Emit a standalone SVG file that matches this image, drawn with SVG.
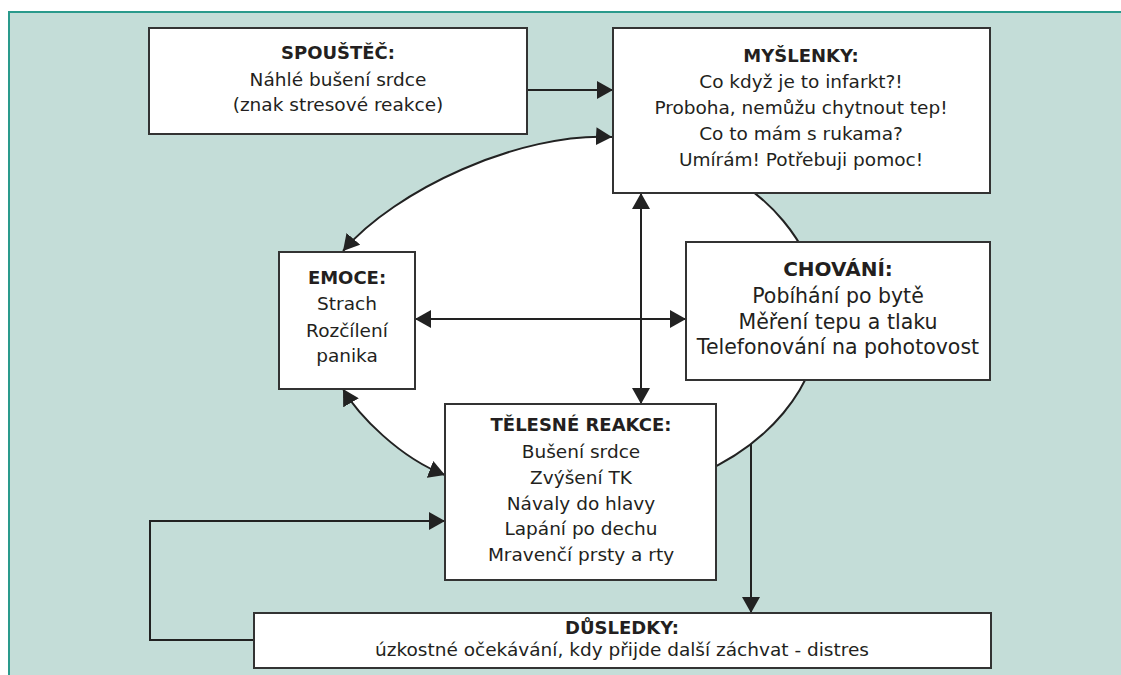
<svg xmlns="http://www.w3.org/2000/svg" width="1121" height="675" viewBox="0 0 1121 675">
<style>
.box{fill:#fff;stroke:#333;stroke-width:2}
.ln{fill:none;stroke:#222;stroke-width:2}
text{font-family:"DejaVu Sans","Open Sans",sans-serif;fill:#231f20;text-anchor:middle}
.h{font-weight:bold;font-size:18px}
.b{font-size:18.5px}
.hl{font-weight:bold;font-size:20px}
.bl{font-size:20.5px}
</style>
<defs>
<marker id="ah" viewBox="0 0 16 18" refX="16" refY="9" markerWidth="16" markerHeight="18" markerUnits="userSpaceOnUse" orient="auto-start-reverse">
<path d="M0,0 L16,9 L0,18 z" fill="#222"/>
</marker>
</defs>
<rect x="0" y="0" width="1121" height="675" fill="#fff"/>
<rect x="9" y="12" width="1112" height="663" fill="#c4ddd8"/>
<path d="M9,675 L9,12 L1121,12" fill="none" stroke="#2a9a8c" stroke-width="2"/>
<path id="loop-fill" d="M612,137 C520,132 395,190 343,251 L343,389 C358,415 400,458 445,475 L700,474 A247 183 0 0 0 700,160 Z" fill="#fff"/>
<g id="connectors">
<path class="ln" d="M612,137 C520,132 395,190 343,251" marker-start="url(#ah)" marker-end="url(#ah)"/>
<path class="ln" d="M343,389 C358,415 400,458 445,475" marker-start="url(#ah)" marker-end="url(#ah)"/>
<path class="ln" d="M700,474 A247 183 0 0 0 700,160"/>
<path class="ln" d="M527,90 L613,90" marker-end="url(#ah)"/>
<path class="ln" d="M641,193 L641,404" marker-start="url(#ah)" marker-end="url(#ah)"/>
<path class="ln" d="M415,319 L686,319" marker-start="url(#ah)" marker-end="url(#ah)"/>
<path class="ln" d="M751,444 L751,613" marker-end="url(#ah)"/>
<path class="ln" d="M254,640 L150,640 L150,521 L445,521" marker-end="url(#ah)"/>
</g>
<g id="spoustec">
<rect class="box" x="149" y="28" width="378" height="106"/>
<text class="h" x="338" y="59">SPOUŠTĚČ:</text>
<text class="b" x="338" y="86">Náhlé bušení srdce</text>
<text class="b" x="338" y="111">(znak stresové reakce)</text>
</g>
<g id="myslenky">
<rect class="box" x="613" y="28" width="377" height="165"/>
<text class="h" x="801" y="62">MYŠLENKY:</text>
<text class="b" x="801" y="88">Co když je to infarkt?!</text>
<text class="b" x="801" y="114">Proboha, nemůžu chytnout tep!</text>
<text class="b" x="801" y="140">Co to mám s rukama?</text>
<text class="b" x="801" y="166">Umírám! Potřebuji pomoc!</text>
</g>
<g id="emoce">
<rect class="box" x="279" y="252" width="136" height="137"/>
<text class="h" x="347" y="284">EMOCE:</text>
<text class="b" x="347" y="310">Strach</text>
<text class="b" x="347" y="337">Rozčílení</text>
<text class="b" x="347" y="362">panika</text>
</g>
<g id="chovani">
<rect class="box" x="686" y="242" width="304" height="138"/>
<text class="hl" x="838" y="276">CHOVÁNÍ:</text>
<text class="bl" x="838" y="303">Pobíhání po bytě</text>
<text class="bl" x="838" y="329">Měření tepu a tlaku</text>
<text class="bl" x="838" y="354">Telefonování na pohotovost</text>
</g>
<g id="telesne">
<rect class="box" x="445" y="404" width="271" height="176"/>
<text class="h" x="581" y="431">TĚLESNÉ REAKCE:</text>
<text class="b" x="581" y="458">Bušení srdce</text>
<text class="b" x="581" y="484">Zvýšení TK</text>
<text class="b" x="581" y="510">Návaly do hlavy</text>
<text class="b" x="581" y="535">Lapání po dechu</text>
<text class="b" x="581" y="561">Mravenčí prsty a rty</text>
</g>
<g id="dusledky">
<rect class="box" x="254" y="613" width="737" height="55"/>
<text class="h" x="622" y="634">DŮSLEDKY:</text>
<text class="b" x="622" y="656">úzkostné očekávání, kdy přijde další záchvat - distres</text>
</g>
</svg>
